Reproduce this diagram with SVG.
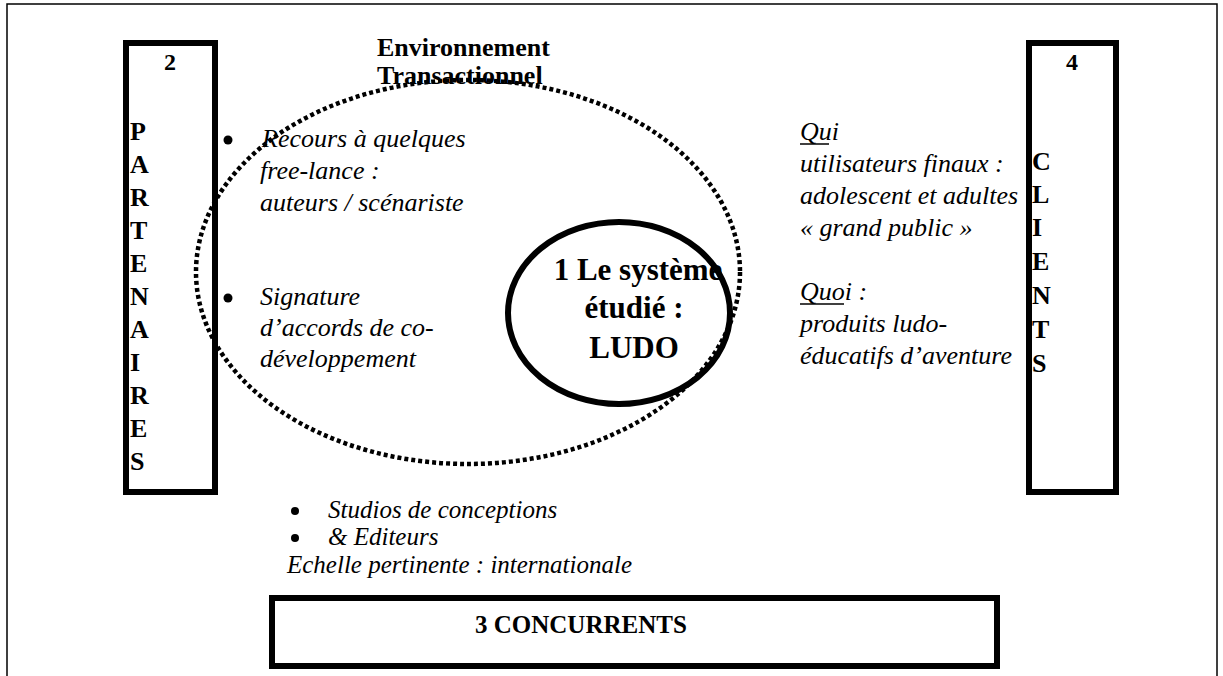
<svg xmlns="http://www.w3.org/2000/svg" width="1223" height="676" viewBox="0 0 1223 676">
<style>
  .frame{fill:none;stroke:#000;stroke-width:1.5}
  .box{fill:none;stroke:#000;stroke-width:6}
  .b{font-family:"Liberation Serif","Times New Roman",serif;font-weight:bold;fill:#000}
  .it{font-family:"Liberation Serif","Times New Roman",serif;font-style:italic;font-size:26px;fill:#000}
  .it2{font-family:"Liberation Serif","Times New Roman",serif;font-style:italic;font-size:25px;fill:#000}
  .let{font-size:26px}
  .num{font-size:24px}
  .ul{stroke:#000;stroke-width:1.5}
  .dot{fill:#000}
</style>
<rect width="1223" height="676" fill="#fff"/>
<rect class="frame" x="7" y="4" width="1210" height="690"/>

<g id="partenaires">
  <rect class="box" x="126" y="43" width="89" height="449"/>
  <text class="b num" x="170" y="70" text-anchor="middle">2</text>
  <g class="b let">
    <text x="130" y="140">P</text>
    <text x="130" y="173">A</text>
    <text x="130" y="206">R</text>
    <text x="130" y="239">T</text>
    <text x="130" y="272">E</text>
    <text x="130" y="305">N</text>
    <text x="130" y="338">A</text>
    <text x="130" y="371">I</text>
    <text x="130" y="404">R</text>
    <text x="130" y="437">E</text>
    <text x="130" y="470">S</text>
  </g>
</g>

<g id="clients">
  <rect class="box" x="1029" y="43" width="87" height="449"/>
  <text class="b num" x="1072" y="70" text-anchor="middle">4</text>
  <g class="b let">
    <text x="1032" y="170">C</text>
    <text x="1032" y="203">L</text>
    <text x="1032" y="236">I</text>
    <text x="1032" y="270">E</text>
    <text x="1032" y="304">N</text>
    <text x="1032" y="338">T</text>
    <text x="1032" y="372">S</text>
  </g>
</g>

<g id="concurrents">
  <rect class="box" x="272" y="598" width="725" height="68"/>
  <text class="b" x="475" y="633" font-size="25">3 CONCURRENTS</text>
</g>

<g id="partenaires-text">
  <circle class="dot" cx="228" cy="140" r="4.5"/>
  <text class="it" x="262" y="147">Recours à quelques</text>
  <text class="it" x="260" y="179">free-lance :</text>
  <text class="it" x="260" y="211">auteurs / scénariste</text>
  <circle class="dot" cx="228" cy="298" r="4.5"/>
  <text class="it" x="260" y="305">Signature</text>
  <text class="it" x="260" y="336">d’accords de co-</text>
  <text class="it" x="260" y="367">développement</text>
</g>

<g id="clients-text">
  <text class="it" x="800" y="140">Qui</text>
  <line class="ul" x1="800" y1="144" x2="829" y2="144"/>
  <text class="it" x="800" y="172">utilisateurs finaux :</text>
  <text class="it" x="800" y="204">adolescent et adultes</text>
  <text class="it" x="800" y="236">« grand public »</text>
  <text class="it" x="800" y="300">Quoi :</text>
  <line class="ul" x1="800" y1="304" x2="844" y2="304"/>
  <text class="it" x="800" y="332">produits ludo-</text>
  <text class="it" x="800" y="364">éducatifs d’aventure</text>
</g>

<g id="concurrents-text">
  <circle class="dot" cx="295" cy="511" r="4"/>
  <text class="it2" x="328" y="518">Studios de conceptions</text>
  <circle class="dot" cx="295" cy="538" r="4"/>
  <text class="it2" x="328" y="545">&amp; Editeurs</text>
  <text class="it2" x="287" y="573">Echelle pertinente : internationale</text>
</g>

<g id="environnement">
  <text class="b" x="377" y="56" font-size="26">Environnement</text>
  <text class="b" x="377" y="84" font-size="26">Transactionnel</text>
  <ellipse cx="468" cy="272" rx="272" ry="192" fill="none" stroke="#000" stroke-width="4.5" stroke-dasharray="4 3"/>
</g>

<g id="systeme">
  <g class="b" font-size="31" text-anchor="middle">
    <text x="638" y="280">1 Le système</text>
    <text x="634" y="318">étudié :</text>
    <text x="634" y="358">LUDO</text>
  </g>
  <ellipse cx="619" cy="313" rx="111" ry="91" fill="none" stroke="#000" stroke-width="6"/>
</g>

<g id="connectors"/>
</svg>
